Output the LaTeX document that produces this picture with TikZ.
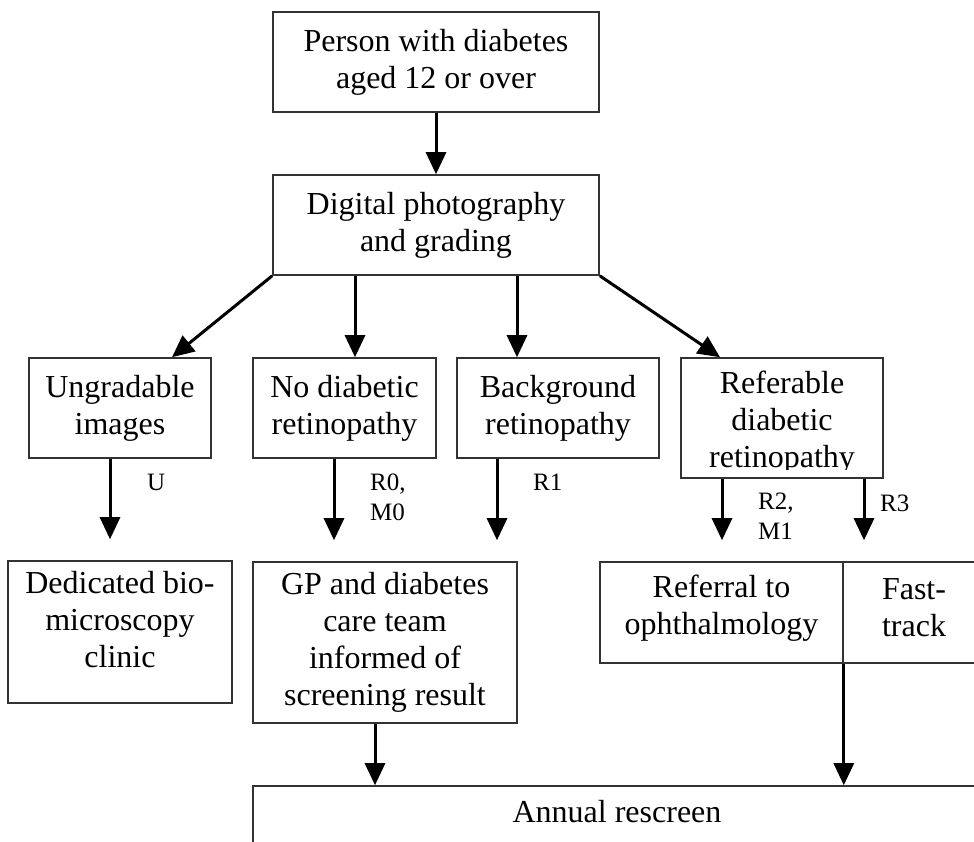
\documentclass[tikz,border=0pt]{standalone}
\usepackage{fontspec}
\setmainfont{Liberation Serif}
\usetikzlibrary{arrows.meta,calc}
\begin{document}
\begin{tikzpicture}[x=1pt,y=-1pt,
 box/.style={draw=black!80, line width=1.6pt, rectangle, inner sep=0pt, align=center, font=\fontsize{32}{37}\selectfont},
 txt/.style={inner sep=0pt, align=center, font=\fontsize{32}{37}\selectfont},
 arr/.style={line width=3pt, -{Triangle[length=22pt,width=20pt]}},
 lbl/.style={anchor=west, align=left, inner sep=0pt, font=\fontsize{25}{30}\selectfont}]
\useasboundingbox (0,0) rectangle (974,841);
\clip (0,0) rectangle (974,841);

% boxes
\node[box, minimum width=326pt, minimum height=100pt] (top) at (436,62) {Person with diabetes\\aged 12 or over};
\node[box, minimum width=326pt, minimum height=100pt] (dig) at (436,225) {Digital photography\\and grading};
\node[box, minimum width=182pt, minimum height=100pt] (ung) at (120,408) {Ungradable\\images};
\node[box, minimum width=183pt, minimum height=100pt] (nod) at (344.5,408) {No diabetic\\retinopathy};
\node[box, minimum width=202pt, minimum height=100pt] (bkg) at (558,408) {Background\\retinopathy};
\node[box, minimum width=202pt, minimum height=120pt] (ref) at (782,418) {};
\begin{scope}
 \clip (ref.north west) rectangle ([yshift=9pt]ref.south east);
 \node[txt] (reft) at (782,423) {Referable\\diabetic\\retinopathy};
\end{scope}
\node[box, minimum width=224pt, minimum height=142pt] (ded) at (120,632) {};
\node[txt] (dedt) at (120,620) {Dedicated bio-\\microscopy\\clinic};
\node[box, minimum width=264pt, minimum height=161pt] (gp) at (385,642.5) {GP and diabetes\\care team\\informed of\\screening result};
\node[box, minimum width=243pt, minimum height=101pt] (rfr) at (721.5,612.5) {};
\node[txt] (rfrt) at (721.5,608) {Referral to\\ophthalmology};
\node[box, minimum width=157pt, minimum height=101pt] (fast) at (921.5,612.5) {};
\node[txt] (fastt) at (914,608) {Fast-\\track};
\node[box, minimum width=747pt, minimum height=114pt] (ann) at (626.5,843) {};
\node[txt] (annt) at (617,812) {Annual rescreen};

% connectors
\draw[arr] (top.south) -- (dig.north);
\draw[arr] ([xshift=-81pt]dig.south) -- ([xshift=-81pt]dig.south |- nod.north);
\draw[arr] ([xshift=81pt]dig.south) -- ([xshift=81pt]dig.south |- bkg.north);
\draw[arr] (dig.south west) -- ([xshift=52pt]ung.north);
\draw[arr] (dig.south east) -- ([xshift=-62pt]ref.north);

\draw[arr, shorten >=21pt] ([xshift=-10pt]ung.south) -- ([xshift=-10pt]ung.south |- ded.north);
\draw[arr, shorten >=21pt] ([xshift=-10.5pt]nod.south) -- ([xshift=-10.5pt]nod.south |- gp.north);
\draw[arr, shorten >=21pt] ([xshift=-61pt]bkg.south) -- ([xshift=-61pt]bkg.south |- gp.north);
\draw[arr, shorten >=21pt] ([xshift=-60pt]ref.south) -- ([xshift=-60pt]ref.south |- rfr.north);
\draw[arr, shorten >=21pt] ([xshift=82pt]ref.south) -- ([xshift=82pt]ref.south |- fast.north);

\draw[arr] ([xshift=-10pt]gp.south) -- ([xshift=-10pt]gp.south |- ann.north);
\draw[arr] (rfr.south east) -- (rfr.south east |- ann.north);

% labels
\node[lbl] (lu) at (147,482) {U};
\node[lbl] (lr0) at (370,497) {R0,\\M0};
\node[lbl] (lr1) at (533,482) {R1};
\node[lbl] (lr2) at (758,516) {R2,\\M1};
\node[lbl] (lr3) at (880,503) {R3};
\end{tikzpicture}
\end{document}
